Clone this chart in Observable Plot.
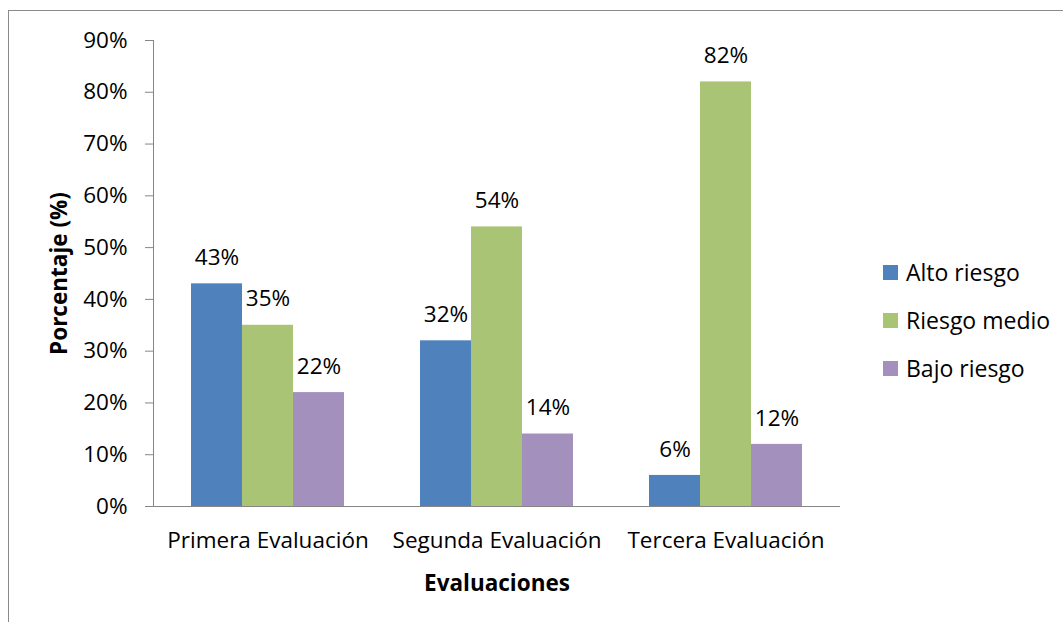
<!DOCTYPE html>
<html>
<head>
<meta charset="utf-8">
<script src="https://cdn.jsdelivr.net/npm/d3@7"></script>
<script src="https://cdn.jsdelivr.net/npm/@observablehq/plot@0.6"></script>
<style>
  html, body { margin: 0; padding: 0; background: #fff; }
  body { position: relative; width: 1063px; height: 622px; overflow: hidden; font-family: "Open Sans", Lato, sans-serif; }
  #border { position: absolute; left: 8px; top: 10px; width: 1200px; height: 800px; border: 1px solid #8a8a8a; box-sizing: border-box; }
  #chart { position: absolute; left: 0; top: 0; }
  #legend { position: absolute; left: 883px; top: 248px; }
  #legend .item { display: flex; align-items: center; height: 48px; font-size: 23px; color: #000; }
  #legend .swatch { width: 15px; height: 15px; margin-right: 8px; }
  [aria-label="y-axis label"] text, [aria-label="fx-axis label"] text { font-weight: bold; }
</style>
</head>
<body>
<div id="border"></div>
<div id="chart"></div>
<div id="legend"></div>
<script>
// Evaluation rounds and risk levels
const categories = ["Primera Evaluación", "Segunda Evaluación", "Tercera Evaluación"];
const series = ["Alto riesgo", "Riesgo medio", "Bajo riesgo"];

// Percentage of people in each risk level, per evaluation
const altoRiesgo = [43, 32, 6];
const riesgoMedio = [35, 54, 82];
const bajoRiesgo = [22, 14, 12];

// Y axis ticks (percent)
const yTicks = [0, 10, 20, 30, 40, 50, 60, 70, 80, 90];

const colors = ["#4F81BD", "#A9C474", "#A390BD"];

const seriesValues = [altoRiesgo, riesgoMedio, bajoRiesgo];
const rows = categories.flatMap((cat, i) =>
  series.map((s, j) => ({ cat, s, v: seriesValues[j][i] }))
);

const axisGray = "#868686";

const chart = Plot.plot({
  width: 1063,
  height: 622,
  marginLeft: 153,
  marginRight: 223,
  marginTop: 40,
  marginBottom: 116,
  style: { fontFamily: "'Open Sans', Lato, sans-serif", fontSize: "22.5px", color: "#000", background: "transparent" },
  fx: { domain: categories, padding: 0, label: null },
  x: { domain: series, paddingInner: 0, paddingOuter: 0.745, axis: null },
  y: { domain: [0, 90] },
  color: { domain: series, range: colors },
  marks: [
    Plot.barY(rows, { fx: "cat", x: "s", y: "v", fill: "s" }),
    Plot.ruleY([0], { stroke: axisGray }),
    Plot.frame({ anchor: "left", facetAnchor: "left", stroke: axisGray }),
    Plot.axisY(yTicks, {
      tickSize: 8,
      tickPadding: 18,
      tickFormat: d => d + "%",
      stroke: axisGray,
      fill: "#000",
      label: "Porcentaje (%)",
      labelArrow: "none",
      labelAnchor: "center",
      labelOffset: 102
    }),
    Plot.axisFx({
      anchor: "bottom",
      tickSize: 0,
      tickPadding: 26,
      fill: "#000",
      label: "Evaluaciones",
      labelArrow: "none",
      labelAnchor: "center",
      labelOffset: 84
    }),
    Plot.text(rows, { fx: "cat", x: "s", y: "v", text: d => d.v + "%", dy: -26, fill: "#000" })
  ]
});

document.getElementById("chart").appendChild(chart);

// Legend, one row per risk level
const legend = d3.select("#legend");
series.forEach((s, i) => {
  const item = legend.append("div").attr("class", "item");
  item.append("div").attr("class", "swatch").style("background", colors[i]);
  item.append("span").text(s);
});
</script>
</body>
</html>
